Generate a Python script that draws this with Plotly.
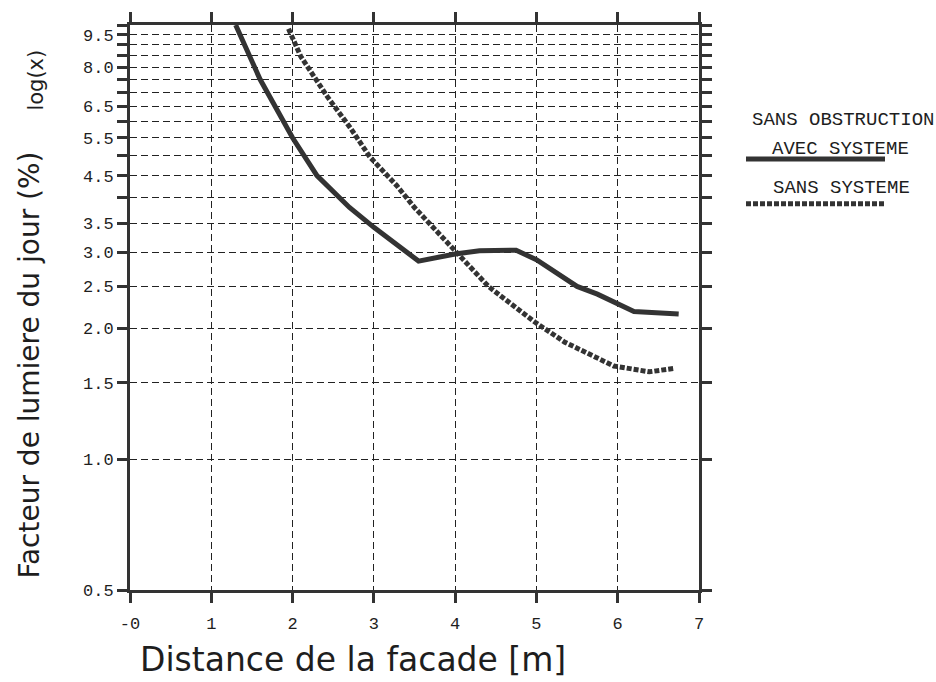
import plotly.graph_objects as go

# Distance from facade (m) and daylight factor (%)
x_avec = [1.3, 1.6, 2.0, 2.3, 2.7, 3.0, 3.55, 4.0, 4.3, 4.75, 5.0, 5.5, 5.75, 6.2, 6.75]
y_avec = [10.0, 7.5, 5.5, 4.5, 3.8, 3.42, 2.86, 2.97, 3.02, 3.03, 2.88, 2.50, 2.40, 2.19, 2.16]

x_sans = [1.95, 2.1, 2.43, 2.71, 2.95, 3.28, 3.5, 3.73, 4.02, 4.41, 4.98, 5.35, 5.95, 6.39, 6.7]
y_sans = [9.8, 8.47, 6.83, 5.8, 4.97, 4.27, 3.8, 3.42, 2.99, 2.50, 2.07, 1.86, 1.64, 1.59, 1.62]

x_ticks = [0, 1, 2, 3, 4, 5, 6, 7]
x_ticktext = ["-0", "1", "2", "3", "4", "5", "6", "7"]

y_ticks = [0.5, 1.0, 1.5, 2.0, 2.5, 3.0, 3.5, 4.0, 4.5, 5.0, 5.5, 6.0, 6.5, 7.0, 7.5, 8.0, 8.5, 9.0, 9.5, 10.0]
y_labelled = ["0.5", "1.0", "1.5", "2.0", "2.5", "3.0", "3.5", "4.5", "5.5", "6.5", "8.0", "9.5"]
y_ticktext = [("%.1f" % v) if ("%.1f" % v) in y_labelled else "" for v in y_ticks]

INK = "#333333"
TXT = "#1e1e1e"
MONO = "Liberation Mono, Courier New, monospace"
SANS = "DejaVu Sans, Liberation Sans, Arial, sans-serif"

fig = go.Figure()
fig.add_trace(go.Scatter(x=x_avec, y=y_avec, mode="lines", name="AVEC SYSTEME",
                         line=dict(color=INK, width=5), showlegend=False))
fig.add_trace(go.Scatter(x=x_sans, y=y_sans, mode="lines", name="SANS SYSTEME",
                         line=dict(color=INK, width=5, dash="5px,2px"), showlegend=False))

axis_common = dict(
    showline=True, linecolor=INK, linewidth=3, mirror="allticks",
    ticks="outside", ticklen=10, tickwidth=3, tickcolor=INK,
    showgrid=True, gridcolor="#222222", gridwidth=1, griddash="7px,4px",
    zeroline=False, tickfont=dict(family=MONO, size=17, color=TXT),
)

fig.update_xaxes(range=[0, 7], tickvals=x_ticks, ticktext=x_ticktext,
                 ticklabelstandoff=6, **axis_common)
fig.update_yaxes(type="log", range=[-0.30103, 1.0], tickvals=y_ticks, ticktext=y_ticktext,
                 ticklabelstandoff=0, **axis_common)

W, H = 936, 682
L, R, T, B = 130, 237, 21, 92


def to_paper_x(xp):
    return (xp - L) / (W - L - R)


def to_paper_y(yp):
    return 1 - (yp - T) / (H - T - B)


def note(text, xp, yp, size, family, angle=0):
    return dict(text=text, x=to_paper_x(xp), y=to_paper_y(yp), xref="paper", yref="paper",
                showarrow=False, xanchor="center", yanchor="middle", textangle=angle,
                font=dict(family=family, size=size, color=TXT))


annotations = [
    note("Facteur de lumiere du jour (%)", 30, 364, 28, SANS, -90),
    note("log(x)", 36, 77, 21, SANS, -90),
    note("Distance de la facade [m]", 353, 660, 33, SANS),
    note("SANS OBSTRUCTION", 843, 117, 19, MONO),
    note("AVEC SYSTEME", 840, 146, 19, MONO),
    note("SANS SYSTEME", 841, 185, 19, MONO),
]

shapes = [
    dict(type="line", xref="paper", yref="paper",
         x0=to_paper_x(746), x1=to_paper_x(885), y0=to_paper_y(156), y1=to_paper_y(156),
         line=dict(color=INK, width=5)),
    dict(type="line", xref="paper", yref="paper",
         x0=to_paper_x(746), x1=to_paper_x(885), y0=to_paper_y(201), y1=to_paper_y(201),
         line=dict(color=INK, width=5, dash="5px,2px")),
]

fig.update_layout(
    width=W, height=H,
    margin=dict(l=L, r=R, t=T, b=B),
    paper_bgcolor="white", plot_bgcolor="white",
    annotations=annotations, shapes=shapes,
    showlegend=False,
)

fig.write_html("out.html")
